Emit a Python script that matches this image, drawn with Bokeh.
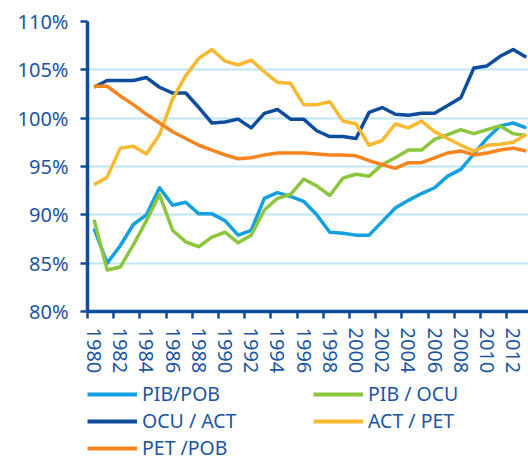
from bokeh.plotting import figure
from bokeh.layouts import column
from bokeh.models import FixedTicker, Legend, LegendItem, Range1d
from bokeh.embed import file_html
from bokeh.resources import INLINE

years = list(range(1980, 2014))
pib_pob = [88.6, 85.0, 86.8, 89.0, 90.0, 92.8, 91.0, 91.3, 90.1, 90.1, 89.4, 87.9, 88.4, 91.7, 92.3, 91.9, 91.4,
           90.0, 88.2, 88.1, 87.9, 87.9, 89.3, 90.7, 91.5, 92.2, 92.8, 94.0, 94.7, 96.3, 97.9, 99.2, 99.5, 99.0]
pib_ocu = [89.5, 84.3, 84.6, 86.9, 89.4, 92.1, 88.4, 87.2, 86.7, 87.7, 88.2, 87.1, 87.9, 90.5, 91.7, 92.1, 93.7,
           93.0, 92.0, 93.8, 94.2, 94.0, 95.2, 95.9, 96.7, 96.7, 97.8, 98.3, 98.8, 98.4, 98.8, 99.2, 98.4, 98.2]
ocu_act = [103.2, 103.9, 103.9, 103.9, 104.2, 103.2, 102.6, 102.6, 101.1, 99.5, 99.6, 99.9, 99.0, 100.5, 100.9, 99.9,
           99.9, 98.7, 98.1, 98.1, 97.9, 100.6, 101.1, 100.4, 100.3, 100.5, 100.5, 101.3, 102.1, 105.2, 105.4, 106.4,
           107.1, 106.3]
act_pet = [93.1, 93.9, 96.9, 97.1, 96.3, 98.3, 102.0, 104.4, 106.2, 107.1, 105.9, 105.5, 106.0, 104.8, 103.7, 103.6,
           101.4, 101.4, 101.7, 99.7, 99.4, 97.2, 97.7, 99.4, 99.0, 99.7, 98.6, 97.9, 97.2, 96.6, 97.2, 97.3, 97.5, 98.3]
pet_pob = [103.3, 103.3, 102.3, 101.4, 100.4, 99.5, 98.6, 97.9, 97.2, 96.7, 96.2, 95.8, 95.9, 96.2, 96.4, 96.4, 96.4,
           96.3, 96.2, 96.2, 96.1, 95.6, 95.2, 94.8, 95.4, 95.4, 95.9, 96.4, 96.6, 96.2, 96.4, 96.7, 96.9, 96.6]

series = [
    ("PIB/POB", pib_pob, "#12a0e0"),
    ("PIB / OCU", pib_ocu, "#8cc63f"),
    ("OCU / ACT", ocu_act, "#0e4c9c"),
    ("ACT / PET", act_pet, "#fbb931"),
    ("PET /POB", pet_pob, "#f7841f"),
]

y_ticks = [80, 85, 90, 95, 100, 105, 110]
x_label_years = list(range(1980, 2013, 2))

AX = "#0e4c9c"
TXT = "#1b55a2"
FONT = "Noto Sans"

p = figure(width=528, height=380, output_backend="svg", toolbar_location=None,
           x_range=Range1d(1979.5, 2013.17), y_range=Range1d(80, 110),
           min_border_left=87, min_border_right=0, min_border_top=21, min_border_bottom=69)
p.outline_line_color = None
p.background_fill_color = "white"
p.border_fill_color = "white"

for name, vals, col in series:
    p.line(years, vals, line_color=col, line_width=3.5, line_join="round")

p.yaxis.ticker = FixedTicker(ticks=y_ticks)
p.yaxis.major_label_overrides = {t: f"{t}%" for t in y_ticks}
p.yaxis.axis_line_color = AX
p.yaxis.axis_line_width = 3.5
p.yaxis.major_tick_line_color = AX
p.yaxis.major_tick_line_width = 2.5
p.yaxis.major_tick_out = 7
p.yaxis.major_tick_in = 0
p.yaxis.minor_tick_line_color = None
p.yaxis.major_label_text_font = FONT
p.yaxis.major_label_text_font_size = "20px"
p.yaxis.major_label_text_color = TXT
p.yaxis.major_label_standoff = 12

p.xaxis.ticker = FixedTicker(ticks=x_label_years, minor_ticks=[y - 0.5 for y in range(1980, 2014, 2)])
p.xaxis.major_label_orientation = "vertical"
p.xaxis.axis_line_color = AX
p.xaxis.axis_line_width = 3.5
p.xaxis.major_tick_line_color = None
p.xaxis.major_tick_out = 7
p.xaxis.major_tick_in = 0
p.xaxis.minor_tick_line_color = AX
p.xaxis.minor_tick_line_width = 2.5
p.xaxis.minor_tick_out = 7
p.xaxis.minor_tick_in = 0
p.xaxis.major_label_text_font = FONT
p.xaxis.major_label_text_font_size = "20px"
p.xaxis.major_label_text_color = TXT
p.xaxis.major_label_standoff = 9

p.xgrid.grid_line_color = None
p.ygrid.ticker = FixedTicker(ticks=y_ticks)
p.ygrid.grid_line_color = "#bfe6f6"
p.ygrid.grid_line_width = 2

# legend panel below the chart
lg = figure(width=528, height=81, output_backend="svg", toolbar_location=None,
            x_range=Range1d(0, 1), y_range=Range1d(0, 1),
            x_axis_location=None, y_axis_location=None,
            min_border_left=87, min_border_right=0, min_border_top=0, min_border_bottom=0)
lg.outline_line_color = None
lg.grid.visible = False
items = []
for name, vals, col in series:
    r = lg.line(years, vals, line_color=col, line_width=4)
    items.append(LegendItem(label=name, renderers=[r]))

legend = Legend(items=items, ncols=2, orientation="horizontal", location=(0, 0),
                glyph_width=50, glyph_height=20, label_height=20, label_standoff=5,
                label_width=171, spacing=0, padding=0, margin=0,
                label_text_font=FONT, label_text_font_size="19.5px", label_text_color=TXT,
                border_line_color=None, background_fill_alpha=0)
lg.add_layout(legend, "center")

open("out.html", "w").write(file_html(column(p, lg, spacing=0), INLINE))
